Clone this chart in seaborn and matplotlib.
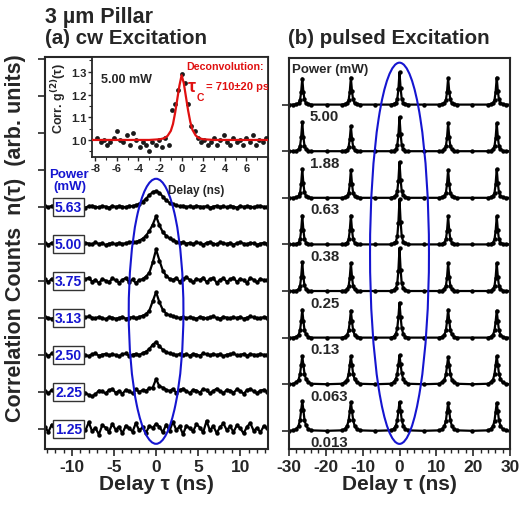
import numpy as np
import matplotlib
matplotlib.use("Agg")
import matplotlib.pyplot as plt
import seaborn as sns
from matplotlib.patches import Ellipse
from matplotlib.ticker import MultipleLocator

sns.set_style("ticks")
plt.rcParams['font.family'] = ['Liberation Sans', 'DejaVu Sans']
plt.rcParams['font.weight'] = 'bold'
plt.rcParams['axes.linewidth'] = 1.5
plt.rcParams['axes.unicode_minus'] = False

# %%
# (a) cw excitation: delay bins (ns) and traces (units of trace spacing, x100)
cw_delay = np.linspace(-13.2, 13.2, 67)
cw_power = ["1.25", "2.25", "2.50", "3.13", "3.75", "5.00", "5.63"]
cw_counts = [
  [5, -8, 12, -3, 7, -10, 3, 15, -5, 2, -12,
   8, -4, 18, -6, 3, -15, 10, 4, -8, 14, -2,
   6, -12, 9, 2, -7, 16, -4, 5, -10, 8, 3,
   14, 6, -9, 12, -5, 20, -3, 7, -14, 9, 2,
   -6, 13, 4, -9, 22, -4, 8, -11, 5, 15, -3,
   7, -8, 10, 2, -12, 6, 16, -5, 3, -9, 8,
   2],
  [3, -4, 6, 2, -3, 5, -2, 4, 0, -5, 3,
   6, -3, -8, -12, -6, 4, 2, -4, 5, 8, -2,
   3, -5, 6, 2, -4, 7, 0, 5, 3, 10, 12,
   35, 15, 12, 6, 3, 8, -2, 5, 9, 2, -3,
   6, 4, -2, 8, 5, -4, 3, 9, 2, -3, 6,
   4, -2, 7, 3, -5, 5, 8, 2, -3, 4, 6,
   1],
  [2, -3, 4, 0, -2, 3, 5, -1, 2, -4, 1,
   3, 0, -3, 2, 4, -2, 1, 3, -1, 2, 0,
   -3, 2, 4, -2, 1, 3, 0, 5, 9, 16, 28,
   35, 24, 14, 8, 4, 2, -1, 3, 0, 2, -2,
   3, 1, -2, 4, 2, -1, 3, 0, 2, -3, 1,
   2, 4, -1, 0, 3, -2, 2, 1, -1, 3, 0,
   1],
  [3, 0, -2, 2, 4, 1, -3, 2, 5, 3, 0,
   -2, 2, 4, 1, -1, 3, 0, -3, 2, 1, -2,
   0, 3, -2, 1, 2, -1, 3, 6, 10, 20, 45,
   70, 42, 22, 12, 7, 4, 2, 0, 3, -1, 2,
   0, -2, 3, 1, -1, 2, 4, 0, -2, 3, 1,
   -1, 2, 0, 3, -2, 1, 4, 2, -1, 0, 2,
   1],
  [4, -3, 6, -5, 3, 8, -2, 5, -4, 2, 6,
   -3, 4, 9, -2, 3, -6, 5, 1, -4, 7, 2,
   -5, 3, 8, -3, 4, -6, 2, 5, 12, 22, 50,
   85, 55, 28, 14, 6, 3, 8, -2, 5, 10, 3,
   -4, 6, 2, 9, -3, 5, 8, -5, 3, 7, -2,
   4, 9, -3, 6, 2, -5, 8, 3, -4, 6, 2,
   3],
  [2, -2, 3, 1, -1, 4, 2, -3, 1, 3, 0,
   -2, 3, 1, -1, 4, 0, 2, -3, 1, 2, -1,
   3, 0, 2, 4, 6, 5, 9, 14, 22, 35, 52,
   75, 50, 32, 22, 15, 10, 6, 3, 5, 1, 3,
   0, 4, 2, -2, 3, 5, 1, -1, 4, 2, 0,
   3, -2, 2, 4, 1, -1, 3, 2, -2, 1, 3,
   1],
  [2, -1, 3, 0, 2, -2, 1, 3, 0, -1, 2,
   1, -2, 2, 3, 0, -1, 2, 1, -2, 3, 0,
   2, 1, -1, 3, 2, 5, 8, 14, 22, 32, 40,
   43, 38, 28, 18, 11, 7, 4, 2, 3, 0, 2,
   -1, 3, 1, 0, 2, -2, 1, 3, 0, 2, -1,
   2, 1, -2, 3, 0, 2, 1, -1, 2, 3, 0,
   1],
]

# inset: g2 at 5.00 mW
g2_delay = np.linspace(-7.8, 7.8, 53)
g2_value = [
  1.01, 0.99, 1.00, 0.98, 0.99, 1.01, 1.04, 1.00, 0.99, 1.02, 0.98,
  1.03, 1.00, 0.97, 0.99, 0.98, 0.95, 0.99, 0.98, 1.00, 0.97, 1.01,
  0.98, 1.13, 1.16, 1.22, 1.29, 1.25, 1.16, 1.06, 1.04, 1.01, 0.99,
  1.00, 0.98, 0.99, 1.01, 0.98, 1.00, 1.02, 0.99, 0.98, 1.01, 0.99,
  1.00, 0.98, 1.01, 0.99, 1.02, 0.98, 1.00, 0.99, 1.01,
]
fit_delay = [-8.3, -3.0, -2.0, -1.6, -1.3, -1.0, -0.8, -0.6, -0.4, -0.2, 0.0,
             0.2, 0.4, 0.6, 0.8, 1.0, 1.3, 1.6, 2.0, 3.0, 8.0]
fit_value = [1.0, 1.0, 1.003, 1.008, 1.018, 1.04, 1.07, 1.12, 1.18, 1.24, 1.285,
             1.25, 1.19, 1.13, 1.08, 1.045, 1.02, 1.008, 1.003, 1.0, 1.0]

# (b) pulsed excitation
pl_delay = [-30.0,
  -28.8, -28.0, -27.4, -27.0, -26.7, -26.4, -26.1, -25.8, -25.4, -24.8, -24.0,
  -19.8,
  -15.6, -14.8, -14.2, -13.8, -13.5, -13.2, -12.9, -12.6, -12.2, -11.6, -10.8,
  -6.6,
  -2.4, -1.6, -1.0, -0.6, -0.3, 0.0, 0.3, 0.6, 1.0, 1.6, 2.4,
  6.6,
  10.8, 11.6, 12.2, 12.6, 12.9, 13.2, 13.5, 13.8, 14.2, 14.8, 15.6,
  19.8,
  24.0, 24.8, 25.4, 25.8, 26.1, 26.4, 26.7, 27.0, 27.4, 28.0, 28.8,
  30.0]
pl_power = ["5.00", "1.88", "0.63", "0.38", "0.25", "0.13", "0.063", "0.013"]
pl_counts = [
  [0,
   0, .01, .03, .10, .27, .56, .28, .11, .03, .01, 0, 0,
   0, .01, .03, .10, .28, .58, .29, .11, .03, .01, 0, 0,
   0, .01, .04, .12, .33, .69, .35, .13, .04, .01, 0, 0,
   0, .01, .03, .10, .27, .57, .28, .11, .03, .01, 0, 0,
   0, .01, .03, .10, .28, .58, .29, .11, .03, .01, 0, 0],
  [0,
   0, .01, .04, .11, .30, .62, .31, .12, .04, .01, 0, 0,
   0, .01, .03, .10, .26, .54, .27, .10, .03, .01, 0, 0,
   0, .01, .04, .13, .35, .73, .37, .14, .04, .01, 0, 0,
   0, .01, .04, .11, .29, .60, .30, .11, .04, .01, 0, 0,
   0, .01, .04, .11, .29, .60, .30, .11, .04, .01, 0, 0],
  [0,
   0, .01, .04, .11, .30, .62, .31, .12, .04, .01, 0, 0,
   0, .01, .04, .11, .29, .60, .30, .11, .04, .01, 0, 0,
   0, .02, .05, .14, .37, .77, .39, .15, .05, .02, 0, 0,
   0, .01, .04, .11, .29, .60, .30, .11, .04, .01, 0, 0,
   0, .01, .04, .11, .30, .62, .31, .12, .04, .01, 0, 0],
  [0,
   0, .01, .04, .11, .30, .62, .31, .12, .04, .01, 0, 0,
   0, .01, .04, .11, .30, .62, .31, .12, .04, .01, 0, 0,
   0, .02, .06, .17, .47, .97, .49, .18, .06, .02, 0, 0,
   0, .01, .04, .11, .29, .60, .30, .11, .04, .01, 0, 0,
   0, .01, .04, .11, .29, .60, .30, .11, .04, .01, 0, 0],
  [0,
   0, .01, .04, .11, .30, .62, .31, .12, .04, .01, 0, 0,
   0, .01, .04, .11, .29, .60, .30, .11, .04, .01, 0, 0,
   0, .02, .06, .17, .44, .92, .46, .17, .06, .02, 0, 0,
   0, .01, .04, .11, .29, .60, .30, .11, .04, .01, 0, 0,
   0, .01, .04, .11, .29, .60, .30, .11, .04, .01, 0, 0],
  [0,
   0, .02, .06, .16, .35, .60, .36, .17, .07, .02, 0, 0,
   0, .02, .06, .16, .34, .58, .35, .16, .06, .02, 0, 0,
   0, .02, .08, .20, .44, .75, .45, .21, .08, .02, 0, 0,
   0, .02, .06, .16, .35, .60, .36, .17, .07, .02, 0, 0,
   0, .02, .06, .16, .34, .58, .35, .16, .06, .02, 0, 0],
  [0,
   .01, .04, .10, .22, .41, .60, .42, .23, .11, .04, .01, 0,
   .01, .04, .10, .22, .41, .60, .42, .23, .11, .04, .01, 0,
   .01, .04, .11, .23, .42, .62, .43, .24, .11, .04, .01, 0,
   .01, .04, .10, .21, .39, .58, .41, .22, .10, .04, .01, 0,
   .01, .04, .10, .22, .41, .60, .42, .23, .11, .04, .01, 0],
  [0,
   .01, .04, .11, .24, .44, .64, .45, .24, .12, .04, .01, 0,
   .01, .04, .11, .23, .42, .62, .43, .24, .11, .04, .01, 0,
   .01, .04, .11, .23, .42, .62, .43, .24, .11, .04, .01, 0,
   .01, .04, .10, .22, .41, .60, .42, .23, .11, .04, .01, 0,
   .01, .04, .10, .22, .41, .60, .42, .23, .11, .04, .01, 0],
]

# %%
W, H = 520, 510
fig = plt.figure(figsize=(W / 100, H / 100), dpi=100)
ax_a = fig.add_axes([45 / W, 1 - 450 / H, 223 / W, 392 / H])
ax_b = fig.add_axes([289 / W, 1 - 450 / H, 221 / W, 391 / H])
ax_in = fig.add_axes([92 / W, 1 - 158 / H, 176 / W, 100 / H])

blue = '#1515d0'
trace_kw = dict(color='black', marker='o', markersize=3.2, markeredgewidth=0,
                linewidth=1.6, estimator=None, sort=False, legend=False)


def bold_ticks(ax):
  for lab in ax.get_xticklabels() + ax.get_yticklabels():
    lab.set_fontweight('bold')


# --- panel (a)
for i, vals in enumerate(cw_counts):
  sns.lineplot(x=cw_delay, y=np.array(vals) / 100 + i, ax=ax_a, **trace_kw)
  ax_a.text(-10.4, i, cw_power[i], color=blue, fontsize=10, fontweight='bold',
            ha='center', va='center',
            bbox=dict(boxstyle='square,pad=0.13', fc='white', ec='#333333', lw=1))
ax_a.text(-10.3, 6.72, "Power\n(mW)", color=blue, fontsize=9.5, fontweight='bold',
          ha='center', va='center', linespacing=1.05)
ax_a.add_patch(Ellipse((0, 3.18), 6.5, 7.16, fill=False, ec=blue, lw=1.5, zorder=5))
ax_a.set_xlim(-13.2, 13.3)
ax_a.set_ylim(-0.54, 10.05)
ax_a.set_yticks(range(11))
ax_a.set_yticklabels([])
ax_a.set_xticks([-10, -5, 0, 5, 10])
ax_a.xaxis.set_minor_locator(MultipleLocator(1))
ax_a.tick_params(axis='both', which='major', direction='out', length=5, width=1.2,
                 labelsize=12.5, pad=2)
ax_a.tick_params(axis='x', which='minor', direction='out', length=3, width=1.0)
ax_a.set_xlabel("Delay τ (ns)", fontsize=15, fontweight='bold', labelpad=0)
ax_a.set_ylabel("")
bold_ticks(ax_a)

# --- inset
sns.scatterplot(x=g2_delay, y=g2_value, ax=ax_in, color='#1a1a1a', s=12,
                linewidth=0, zorder=3)
sns.lineplot(x=fit_delay, y=fit_value, ax=ax_in, color='#e01010', linewidth=1.6,
             estimator=None, sort=False, zorder=4)
ax_in.set_xlim(-8.3, 8.0)
ax_in.set_ylim(0.925, 1.365)
ax_in.set_xticks(range(-8, 8, 2))
ax_in.xaxis.set_minor_locator(MultipleLocator(1))
ax_in.set_yticks([1.0, 1.1, 1.2, 1.3])
ax_in.yaxis.set_minor_locator(MultipleLocator(0.05))
ax_in.tick_params(axis='both', which='major', direction='out', length=3, width=1,
                  labelsize=8, pad=1)
ax_in.tick_params(axis='both', which='minor', direction='out', length=2, width=0.8)
for s in ax_in.spines.values():
  s.set_linewidth(1.3)
bold_ticks(ax_in)
ax_in.set_xlabel("Delay (ns)", fontsize=8.5, fontweight='bold')
ax_in.xaxis.set_label_coords(0.59, -0.27)
ax_in.set_ylabel("Corr. g$^{(2)}$(τ)", fontsize=9, fontweight='bold')
ax_in.yaxis.label.set_verticalalignment('center')
ax_in.yaxis.set_label_coords(-0.19, 0.59)
ax_in.text(0.05, 0.78, "5.00 mW", transform=ax_in.transAxes, fontsize=9,
           fontweight='bold', va='center')
ax_in.text(0.535, 0.91, "Deconvolution:", transform=ax_in.transAxes, fontsize=7.7,
           fontweight='bold', color='#e01010', va='center', clip_on=True)
ax_in.text(0.545, 0.71, "τ", transform=ax_in.transAxes, fontsize=13,
           fontweight='bold', color='#e01010', va='center')
ax_in.text(0.595, 0.60, "C", transform=ax_in.transAxes, fontsize=7.5,
           fontweight='bold', color='#e01010', va='center')
ax_in.text(0.645, 0.71, "= 710±20 ps", transform=ax_in.transAxes, fontsize=8,
           fontweight='bold', color='#e01010', va='center', clip_on=True)

# --- panel (b)
n_b = len(pl_counts)
for k, vals in enumerate(pl_counts):
  base = n_b - 1 - k
  sns.lineplot(x=pl_delay, y=np.array(vals) + base, ax=ax_b, **trace_kw)
  ax_b.text(-24.3, base - 0.25, pl_power[k], fontsize=10.8, fontweight='bold',
            ha='left', va='center')
ax_b.text(-29.2, 7.77, "Power (mW)", fontsize=9.5, fontweight='bold',
          ha='left', va='center')
ax_b.add_patch(Ellipse((0, 3.81), 16, 8.18, fill=False, ec=blue, lw=1.5, zorder=5))
ax_b.set_xlim(-30, 30)
ax_b.set_ylim(-0.39, 8.0)
ax_b.set_yticks(range(n_b))
ax_b.set_yticklabels([])
ax_b.set_xticks(range(-30, 31, 10))
ax_b.xaxis.set_minor_locator(MultipleLocator(2))
ax_b.tick_params(axis='both', which='major', direction='out', length=5, width=1.2,
                 labelsize=12.5, pad=2)
ax_b.tick_params(axis='x', which='minor', direction='out', length=3, width=1.0)
ax_b.set_xlabel("Delay τ (ns)", fontsize=15, fontweight='bold', labelpad=0)
ax_b.set_ylabel("")
bold_ticks(ax_b)

# --- figure texts
fig.text(45 / W, 1 - 17 / H, "3 µm Pillar", fontsize=15.5, fontweight='bold',
         va='center', ha='left')
fig.text(45 / W, 1 - 38 / H, "(a) cw Excitation", fontsize=14.8, fontweight='bold',
         va='center', ha='left')
fig.text(288 / W, 1 - 38 / H, "(b) pulsed Excitation", fontsize=14.8,
         fontweight='bold', va='center', ha='left')
fig.text(16 / W, 1 - 238 / H, "Correlation Counts  n(τ)  (arb. units)",
         fontsize=15.5, fontweight='bold', rotation=90, va='center', ha='center')

fig.savefig('out.png', dpi=100)
